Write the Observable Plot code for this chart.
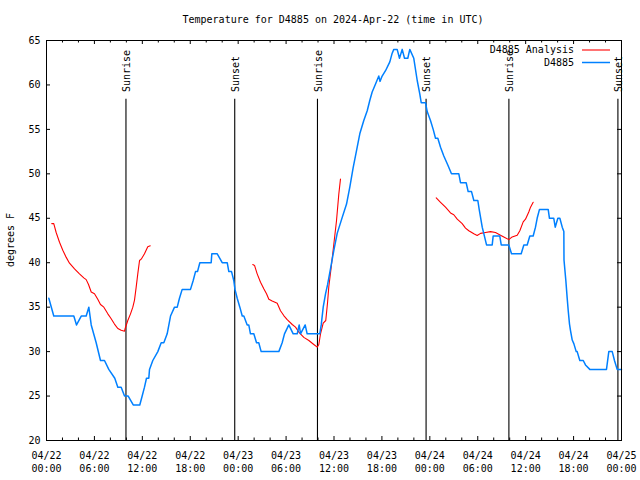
<!DOCTYPE html>
<html><head><meta charset="utf-8">
<script src="https://cdn.jsdelivr.net/npm/d3@7"></script>
<script src="https://cdn.jsdelivr.net/npm/@observablehq/plot@0.6"></script>
<style>body{margin:0;background:#fff} svg{display:block}</style>
</head><body><div id="chart"></div>
<script>
const title = "Temperature for D4885 on 2024-Apr-22 (time in UTC)";
const yLabel = "degrees F";
const xTicks = [0, 6, 12, 18, 24, 30, 36, 42, 48, 54, 60, 66, 72];
const xTickLabels = ["04/22\n00:00","04/22\n06:00","04/22\n12:00","04/22\n18:00",
  "04/23\n00:00","04/23\n06:00","04/23\n12:00","04/23\n18:00",
  "04/24\n00:00","04/24\n06:00","04/24\n12:00","04/24\n18:00","04/25\n00:00"];
const xMinorTicks = [2,4,8,10,14,16,20,22,26,28,32,34,38,40,44,46,50,52,56,58,62,64,68,70];
const yTicks = [20, 25, 30, 35, 40, 45, 50, 55, 60, 65];
const seriesNames = ["D4885 Analysis", "D4885"];
const seriesColors = ["#ff0000", "#0080ff"];

// D4885 observations (hours since 04/22 00:00 UTC, deg F)
const obsHours = [0.29,0.91,3.42,3.76,4.35,4.97,5.30,5.60,6.22,6.76,7.26,7.80,8.55,8.93,9.35,9.77,10.23,10.86,11.68,11.98,12.27,12.52,12.81,12.90,13.31,13.94,14.36,14.69,15.11,15.53,16.03,16.37,16.65,16.99,18.03,18.37,18.66,18.91,19.20,20.62,20.70,21.38,22.00,22.63,22.83,23.17,23.45,23.60,23.88,24.21,24.51,24.71,25.13,25.33,25.54,25.96,26.30,26.58,26.88,29.09,29.51,29.80,30.34,30.89,31.39,31.64,31.81,32.39,32.64,34.22,34.40,34.65,34.94,35.19,35.56,35.98,36.40,37.03,37.57,37.98,38.40,38.82,39.23,39.73,40.16,40.48,40.78,41.20,41.61,41.76,42.03,42.45,42.99,43.26,43.49,43.91,44.20,44.54,44.83,45.24,45.49,45.99,46.42,46.74,46.92,47.46,47.67,48.08,48.42,48.71,49.00,49.34,49.75,50.25,50.71,51.63,51.84,52.55,52.80,53.22,53.51,54.01,54.18,54.56,55.10,55.81,55.93,56.76,56.94,57.89,58.23,59.44,59.77,60.19,60.52,60.94,61.23,61.44,61.73,62.82,62.98,63.52,63.70,64.03,64.28,64.58,64.78,64.80,65.03,65.20,65.33,65.49,65.61,65.83,66.03,66.33,66.45,66.78,67.21,67.49,68.03,70.12,70.41,70.84,71.12,71.46,72.0];
const obsTemps = [36,34,34,33,34,34,35,33,31,29,29,28,27,26,26,25,25,24,24,25,26,27,27,28,29,30,31,31,32,34,35,35,36,37,37,38,39,39,40,40,41,41,40,40,39,39,38,37,36,35,34,34,33,33,32,32,31,31,30,30,31,32,33,32,32,33,32,33,32,32,33,35,36.5,37.5,39.3,41.4,43.3,45.1,46.6,48.5,50.7,52.6,54.5,56,57.1,58.25,59.2,60.1,61,60.4,61,61.6,62.6,63.5,64,64,63,64,63,63,64,63,60.5,59,58,58,57,56,55,54,54,53,52,51,50,50,49,49,48,48,47,47,46,44,42,42,43,43,42,42,41,41,42,42,43,43,44,45,46,46,45,45,44,45,45,44,43.5,40.3,38,36,34.6,33.1,32.4,31.3,30.9,30,30,29,29,28.5,28,28,30,30,29,28,28];

// D4885 Analysis (three runs)
const anaHours = [0.66,0.91,1.21,1.63,2.04,2.47,2.88,3.51,4.13,4.67,4.97,5.26,5.60,6.01,6.42,6.76,7.18,7.68,8.10,8.51,8.93,9.35,9.77,9.85,10.18,10.52,10.81,11.02,11.23,11.43,11.65,11.86,12.27,12.68,12.99,
  25.83,26.05,26.38,26.80,27.21,27.55,27.84,28.26,28.89,29.30,29.71,30.14,30.77,31.18,31.59,32.22,32.85,33.47,33.90,34.10,34.31,34.65,34.97,35.19,35.35,35.65,35.98,36.31,36.60,36.81,
  48.80,49.34,49.96,50.59,51.00,51.43,52.05,52.47,52.88,53.51,53.93,54.35,54.97,55.60,56.22,56.85,57.26,57.89,58.31,58.94,59.27,59.69,59.98,60.39,60.61,60.94];
const anaTemps = [44.4,44.4,43.4,42.3,41.4,40.6,39.95,39.3,38.75,38.3,38.1,37.55,36.7,36.5,35.9,35.3,35.0,34.25,33.7,33.1,32.6,32.4,32.3,32.6,33.5,34.25,35.0,35.8,37.25,38.75,40.25,40.4,41.0,41.8,41.9,
  39.8,39.7,38.75,37.8,37.06,36.5,35.9,35.7,35.45,34.6,34.06,33.6,33.05,32.75,32.2,31.6,31.25,30.8,30.5,30.8,32,33.2,33.5,35.5,37.3,39.5,42.1,44.7,47.7,49.4,
  47.3,46.8,46.25,45.6,45.4,44.9,44.4,43.9,43.6,43.25,43.06,43.3,43.4,43.5,43.4,43.1,42.9,42.6,42.9,43.1,43.6,44.6,44.9,45.7,46.25,46.8];
const anaRun = [...Array(35).fill(1), ...Array(30).fill(2), ...Array(26).fill(3)];

// Sun events
const sunHours = [9.95, 23.57, 33.93, 47.53, 57.90, 71.55];
const sunNames = ["Sunrise","Sunset","Sunrise","Sunset","Sunrise","Sunset"];
const sunLineTop = 58.4;
const sunLabelAt = 59.2;

const obs = obsHours.map((h, i) => ({h, t: obsTemps[i]}));
const ana = anaHours.map((h, i) => ({h, t: anaTemps[i], run: anaRun[i]}));
const sun = sunHours.map((h, i) => ({h, name: sunNames[i]}));

const W = 640, H = 480, ML = 46, MR = 19, MT = 40, MB = 40;
const PW = W - ML - MR, PH = H - MT - MB;
const major = 4, minor = 2.5;
const font = "'DejaVu Sans Mono', 'Liberation Mono', monospace";

const chart = Plot.plot({
  width: W, height: H,
  marginLeft: ML, marginRight: MR, marginTop: MT, marginBottom: MB,
  style: {fontFamily: font, fontSize: "10px", background: "#fff", color: "#000"},
  x: {domain: [0, 72], label: null},
  y: {domain: [20, 65], label: null},
  marks: [
    Plot.axisX({ticks: xTicks, tickFormat: d => xTickLabels[xTicks.indexOf(d)], tickSize: 0, tickPadding: 9, lineHeight: 1.3, label: null, fontSize: 10}),
    Plot.axisY({ticks: yTicks, tickSize: 0, tickPadding: 6, label: null, fontSize: 10}),
    Plot.tickX(xTicks, {x: d => d, insetTop: PH - major, stroke: "#000"}),
    Plot.tickX(xTicks, {x: d => d, insetBottom: PH - major, stroke: "#000"}),
    Plot.tickX(xMinorTicks, {x: d => d, insetTop: PH - minor, stroke: "#000"}),
    Plot.tickX(xMinorTicks, {x: d => d, insetBottom: PH - minor, stroke: "#000"}),
    Plot.tickY(yTicks, {y: d => d, insetRight: PW - major, stroke: "#000"}),
    Plot.tickY(yTicks, {y: d => d, insetLeft: PW - major, stroke: "#000"}),
    Plot.ruleX(sun, {x: "h", y1: 20, y2: sunLineTop, stroke: "#000", strokeWidth: 1.1}),
    Plot.text(sun, {x: "h", y: sunLabelAt, text: "name", rotate: -90, textAnchor: "start", dx: 1, fontSize: 10, fill: "#000"}),
    Plot.line(ana, {x: "h", y: "t", z: "run", stroke: seriesColors[0], strokeWidth: 1.1}),
    Plot.line(obs, {x: "h", y: "t", stroke: seriesColors[1], strokeWidth: 1.5}),
    Plot.frame({stroke: "#000"})
  ]
});

const svg = d3.select(chart);
svg.append("text").attr("x", 333).attr("y", 20).attr("text-anchor", "middle")
  .attr("dominant-baseline", "middle").attr("font-size", 10).attr("font-family", font).text(title);
svg.append("text").attr("transform", "translate(11,240) rotate(-90)").attr("text-anchor", "middle")
  .attr("dominant-baseline", "middle").attr("font-size", 10).attr("font-family", font).text(yLabel);
seriesNames.forEach((name, i) => {
  const y = 50 + i * 12.5;
  svg.append("text").attr("x", 574).attr("y", y).attr("text-anchor", "end")
    .attr("dominant-baseline", "middle").attr("font-size", 10).attr("font-family", font).text(name);
  svg.append("line").attr("x1", 582).attr("x2", 610).attr("y1", y).attr("y2", y)
    .attr("stroke", seriesColors[i]).attr("stroke-width", i ? 1.5 : 1.1);
});
document.getElementById("chart").appendChild(chart);
</script>
</body></html>
